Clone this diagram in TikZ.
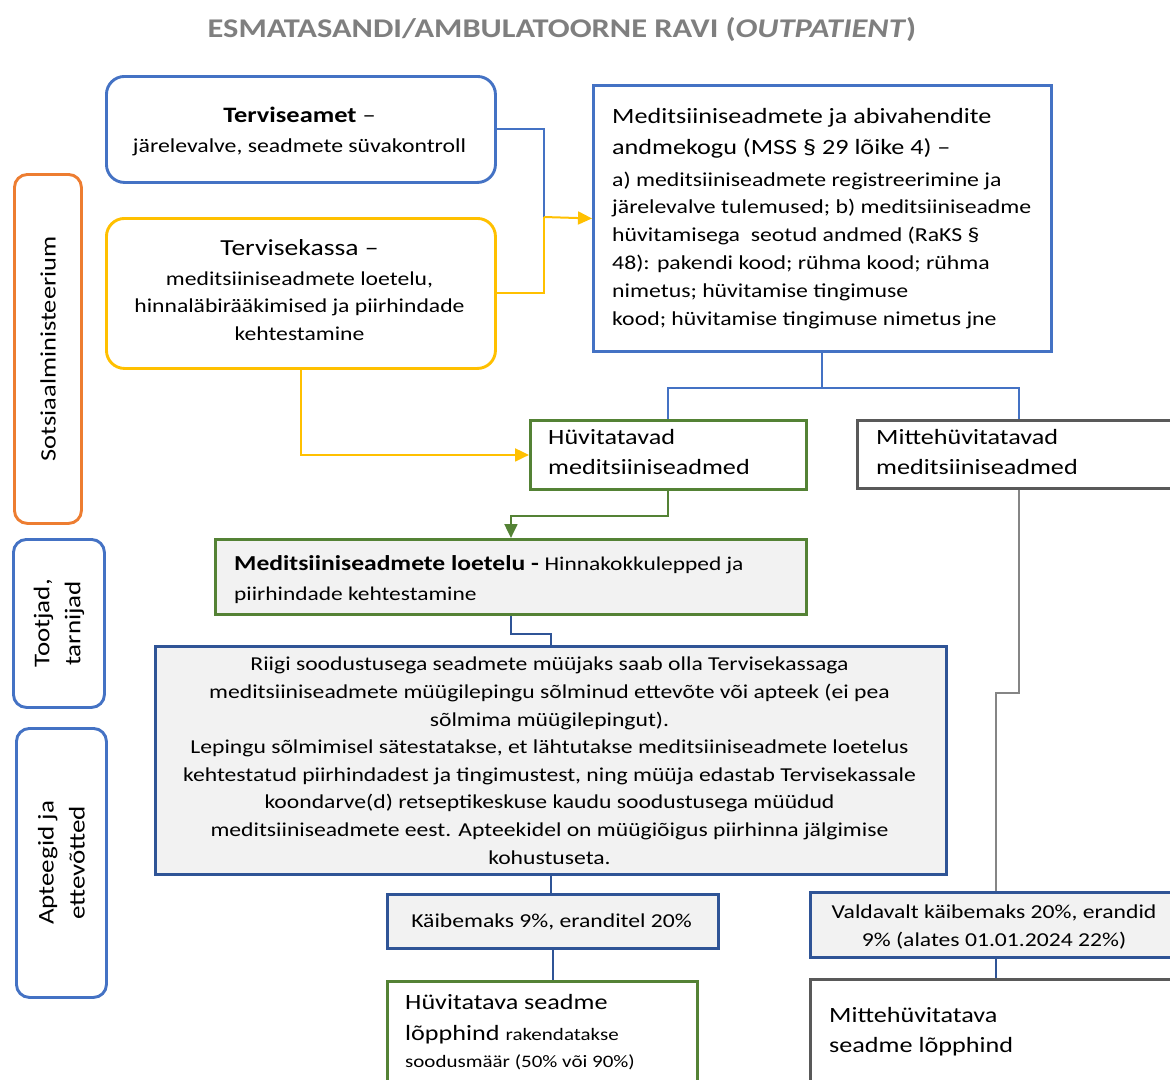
\documentclass[tikz,border=0pt]{standalone}
\usepackage{fontspec}
\setmainfont{Carlito}[FakeStretch=1.2]
\usetikzlibrary{arrows.meta,calc}
\definecolor{cblue}{HTML}{4472C4}
\definecolor{dblue}{HTML}{2F5496}
\definecolor{corange}{HTML}{ED7D31}
\definecolor{cyellow}{HTML}{FFC000}
\definecolor{cgreen}{HTML}{548235}
\definecolor{cfill}{HTML}{F2F2F2}
\definecolor{dgray}{HTML}{595959}
\definecolor{lgray}{HTML}{858585}
\definecolor{ttl}{HTML}{7F7F7F}
\newcommand\myfs[2]{\fontsize{#1}{#2}\selectfont}
\begin{document}
\begin{tikzpicture}[x=1pt,y=-1pt,
  box/.style={draw, inner sep=0pt, anchor=north west, line width=2.9pt},
  rbox/.style={box, rounded corners=18pt},
  sbox/.style={box, rounded corners=13pt},
  txt/.style={inner sep=0pt, text=black},
  conn/.style={line width=2pt},
  tip/.style={-{Triangle[length=14pt,width=13pt]}}
]
\path[use as bounding box, clip] (0,0) rectangle (1170,1079);
\fill[white] (0,0) rectangle (1170,1079);

% title
\node[txt, anchor=base, text=ttl, font=\myfs{27}{32}\bfseries] (title) at (562,37) {ESMATASANDI/AMBULATOORNE RAVI (\textit{OUTPATIENT})};

% left side labels
\node[sbox, draw=corange, minimum width=67pt, minimum height=349pt] (so) at (13,173) {};
\node[sbox, draw=cblue, minimum width=91pt, minimum height=168pt] (tt) at (12,538) {};
\node[sbox, draw=cblue, minimum width=90pt, minimum height=269pt] (ap) at (15,727) {};
\node[txt, rotate=90, font=\myfs{22}{30}] (sot) at (so.center) {Sotsiaalministeerium};
\node[txt, rotate=90, align=center, font=\myfs{22.5}{31}] (ttt) at (tt.center) {Tootjad,\\tarnijad};
\node[txt, rotate=90, align=center, font=\myfs{22.5}{31}] (apt) at (ap.center) {Apteegid ja\\ettevõtted};

% boxes
\node[rbox, draw=cblue, minimum width=389pt, minimum height=106pt] (ta) at (105,75) {};
\node[rbox, draw=cyellow, minimum width=389pt, minimum height=150pt] (tk) at (105,217) {};
\node[box, draw=cblue, minimum width=458pt, minimum height=266pt] (db) at (592,84) {};
\node[box, draw=cgreen, minimum width=276pt, minimum height=69pt] (hv) at (529,419) {};
\node[box, draw=dgray, minimum width=324pt, minimum height=68pt] (mh) at (856,419) {};
\node[box, draw=cgreen, fill=cfill, minimum width=591pt, minimum height=75pt] (lo) at (214,538) {};
\node[box, draw=dblue, fill=cfill, minimum width=791pt, minimum height=228pt] (big) at (154,645) {};
\node[box, draw=dblue, fill=cfill, minimum width=331pt, minimum height=54pt] (kb) at (386,893) {};
\node[box, draw=dblue, fill=cfill, minimum width=371pt, minimum height=65pt] (vd) at (809,891) {};
\node[box, draw=cgreen, minimum width=310pt, minimum height=120pt] (hs) at (386,980) {};
\node[box, draw=dgray, minimum width=371pt, minimum height=122pt] (mf) at (809,978) {};

% texts (anchor base = baseline of the last line)
\node[txt, anchor=base, font=\myfs{22}{30}] (tat1) at (299.5,122) {\textbf{Terviseamet} –};
\node[txt, anchor=base, font=\myfs{19.8}{30}] (tat2) at (299.5,152) {järelevalve, seadmete süvakontroll};
\node[txt, anchor=base, font=\myfs{23}{30}] (tkt1) at (299.5,255) {Tervisekassa –};
\node[txt, anchor=base, align=center, font=\myfs{19.7}{27.5}] (tkt2) at (299.5,340) {meditsiiniseadmete loetelu,\\hinnaläbirääkimised ja piirhindade\\kehtestamine};
\node[txt, anchor=base west, align=left, font=\myfs{21.8}{31}] (dbt1) at (612,154) {Meditsiiniseadmete ja abivahendite\\andmekogu (MSS § 29 lõike 4) –};
\node[txt, anchor=base west, align=left, font=\myfs{19.8}{27.8}] (dbt2) at (612,325) {a) meditsiiniseadmete registreerimine ja\\järelevalve tulemused; b) meditsiiniseadme\\hüvitamisega\ \ seotud andmed (RaKS §\\48): pakendi kood; rühma kood; rühma\\nimetus; hüvitamise tingimuse\\kood; hüvitamise tingimuse nimetus jne};
\node[txt, anchor=base west, align=left, font=\myfs{21.8}{30}] (hvt) at (548,474) {Hüvitatavad\\meditsiiniseadmed};
\node[txt, anchor=base west, align=left, font=\myfs{21.8}{30}] (mht) at (876,474) {Mittehüvitatavad\\meditsiiniseadmed};
\node[txt, anchor=base west, font=\myfs{21.3}{29}] (lot1) at (234,570) {\textbf{Meditsiiniseadmete loetelu -} {\myfs{19.5}{29}Hinnakokkulepped ja}};
\node[txt, anchor=base west, font=\myfs{19.5}{29}] (lot2) at (234,600) {piirhindade kehtestamine};
\node[txt, anchor=base, align=center, font=\myfs{19.7}{27.6}] (bigt) at (549.5,864) {Riigi soodustusega seadmete müüjaks saab olla Tervisekassaga\\meditsiiniseadmete müügilepingu sõlminud ettevõte või apteek (ei pea\\sõlmima müügilepingut).\\Lepingu sõlmimisel sätestatakse, et lähtutakse meditsiiniseadmete loetelus\\kehtestatud piirhindadest ja tingimustest, ning müüja edastab Tervisekassale\\koondarve(d) retseptikeskuse kaudu soodustusega müüdud\\meditsiiniseadmete eest. Apteekidel on müügiõigus piirhinna jälgimise\\kohustuseta.};
\node[txt, anchor=base, font=\myfs{19.7}{28}] (kbt) at (551.5,927) {Käibemaks 9\%, eranditel 20\%};
\node[txt, anchor=base, align=center, font=\myfs{19.7}{28}] (vdt) at (994,946) {Valdavalt käibemaks 20\%, erandid\\9\% (alates 01.01.2024 22\%)};
\node[txt, anchor=base west, font=\myfs{21.8}{31}] (hst1) at (405,1009) {Hüvitatava seadme};
\node[txt, anchor=base west, font=\myfs{21.8}{31}] (hst2) at (405,1040) {lõpphind {\myfs{17.5}{26}rakendatakse}};
\node[txt, anchor=base west, font=\myfs{17.5}{26}] (hst3) at (405,1067) {soodusmäär (50\% või 90\%)};
\node[txt, anchor=base west, align=left, font=\myfs{21.8}{30}] (mft) at (829,1052) {Mittehüvitatava\\seadme lõpphind};

% connectors
\coordinate (j1) at (544,217);
\draw[conn, cblue] (ta.east) -| (j1);
\draw[conn, cyellow] (tk.east) -| (j1);
\draw[conn, cyellow, tip] (j1) -- (db.west);
\draw[conn, cblue] (db.south) -- ++(0,35) -| (hv.north);
\draw[conn, cblue] (db.south) -- ++(0,35) -| (mh.north);
\draw[conn, cyellow, tip] (tk.south) |- (hv.west);
\draw[conn, cgreen, tip] (hv.south) -- ++(0,25) -| (lo.north);
\draw[conn, dblue] (lo.south) -- ++(0,18) -| (big.north);
\draw[conn, dblue] (big.south) -- (big.south |- kb.north);
\draw[conn, dblue] (kb.south) -- ++(0,13) -| ($(hs.north west)+(167,0)$);
\draw[conn, lgray] (mh.south) -- ++(0,203) -| (vd.north);
\draw[conn, dblue] (vd.south) -- (mf.north);
\end{tikzpicture}
\end{document}
